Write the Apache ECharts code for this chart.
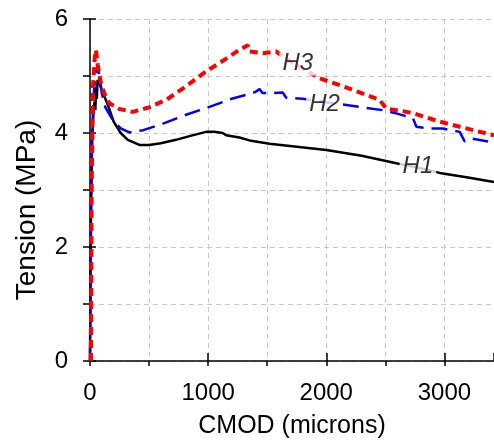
<!DOCTYPE html>
<html><head><meta charset="utf-8">
<script src="https://cdn.jsdelivr.net/npm/echarts@6/dist/echarts.min.js"></script>
<style>html,body{margin:0;padding:0;background:#fff}#c{width:494px;height:445px}</style>
</head><body><div id="c"></div>
<script>
const xTicks = [0, 1000, 2000, 3000];
const yTicks = [0, 2, 4, 6];
const h1 = [[0,0],[8,2.5],[18,3.9],[28,4.3],[38,4.55],[45,4.4],[52,4.8],[58,4.6],[64,4.93],[80,4.88],[100,4.75],[150,4.5],[200,4.2],[260,4.0],[320,3.88],[418,3.79],[500,3.79],[600,3.82],[728,3.88],[850,3.95],[983,4.02],[1050,4.02],[1123,4.0],[1152,3.96],[1265,3.92],[1350,3.87],[1520,3.81],[1750,3.76],[2000,3.70],[2300,3.60],[2593,3.47],[2800,3.38],[2960,3.30],[3200,3.22],[3420,3.14]];
const h2 = [[0,0],[12,3.5],[28,4.6],[45,5.0],[64,5.18],[80,5.0],[100,4.7],[130,4.45],[192,4.23],[260,4.08],[333,4.01],[450,4.05],[600,4.15],[813,4.32],[1000,4.45],[1200,4.6],[1322,4.67],[1400,4.72],[1435,4.77],[1460,4.70],[1520,4.70],[1632,4.71],[1660,4.62],[1800,4.60],[2000,4.54],[2170,4.49],[2480,4.40],[2600,4.34],[2734,4.26],[2763,4.11],[2875,4.08],[2985,4.08],[3130,4.02],[3172,3.85],[3240,3.90],[3370,3.85]];
const h3 = [[8,0],[14,3.0],[25,4.8],[40,5.3],[50,5.46],[65,5.2],[90,4.9],[120,4.7],[164,4.52],[250,4.42],[361,4.37],[500,4.45],[644,4.58],[800,4.80],[983,5.08],[1150,5.30],[1265,5.46],[1336,5.54],[1350,5.43],[1463,5.40],[1576,5.43],[1700,5.25],[1943,4.96],[2197,4.78],[2452,4.58],[2508,4.43],[2734,4.35],[2960,4.20],[3243,4.05],[3420,3.96]];
const labelNames = ['H1','H2','H3'];
const labelPos = [[2776,3.41],[1985,4.51],[1759,5.22]];

const FONT = '"Liberation Sans", Arial, sans-serif';
const chart = echarts.init(document.getElementById('c'));
const gridDash = {show:true, lineStyle:{color:'#c8c8c8', type:[5,4], width:1}};
chart.setOption({
  animation:false,
  grid:{left:90, right:0, top:19, bottom:84, containLabel:false},
  xAxis:[{
    type:'value', min:0, max:3420, interval:500,
    name:'CMOD (microns)', nameLocation:'middle', nameGap:53,
    nameTextStyle:{fontFamily:FONT, fontSize:25, color:'#000'},
    axisLine:{show:true, onZero:false, lineStyle:{color:'#000', width:1.5}},
    axisTick:{show:true, length:5, lineStyle:{color:'#000', width:1.5}},
    axisLabel:{fontFamily:FONT, fontSize:24, color:'#000', margin:20, showMaxLabel:false,
      formatter:v => xTicks.includes(v) ? String(v) : ''},
    splitLine:gridDash
  },{
    type:'value', min:0, max:3420, interval:1000, position:'bottom',
    axisLine:{show:false}, axisLabel:{show:false}, splitLine:{show:false},
    axisTick:{show:true, inside:true, length:8, lineStyle:{color:'#000', width:1.5}}
  }],
  yAxis:[{
    type:'value', min:0, max:6, interval:1,
    name:'Tension (MPa)', nameLocation:'middle', nameGap:49,
    nameTextStyle:{fontFamily:FONT, fontSize:28, color:'#000', padding:[0,40,0,0]},
    axisLine:{show:true, onZero:false, lineStyle:{color:'#000', width:1.5}},
    axisTick:{show:true, length:7, lineStyle:{color:'#000', width:1.5}},
    axisLabel:{fontFamily:FONT, fontSize:24, color:'#000', margin:22,
      formatter:v => yTicks.includes(v) ? String(v) : ''},
    splitLine:gridDash
  },{
    type:'value', min:0, max:6, interval:2, position:'left',
    axisLine:{show:false}, axisLabel:{show:false}, splitLine:{show:false},
    axisTick:{show:true, inside:true, length:6, lineStyle:{color:'#000', width:1.5}}
  }],
  series:[
    {type:'line', name:'H1', data:h1, showSymbol:false, z:3,
      lineStyle:{color:'#000', width:2.5, type:'solid'}},
    {type:'line', name:'H2', data:h2, showSymbol:false, z:4,
      lineStyle:{color:'#0000ff', width:2.5, type:[16,8]}},
    {type:'line', name:'H3', data:h3, showSymbol:false, z:5,
      lineStyle:{color:'#ff0000', width:4, type:[8,5]}},
    {type:'scatter', z:10, symbolSize:0, silent:true,
      data:labelPos.map((p,i)=>({value:p, name:labelNames[i]})),
      label:{show:true, position:'inside', formatter:p=>p.name,
        fontFamily:FONT, fontSize:24, fontStyle:'italic', color:'#000',
        backgroundColor:'#fff', padding:[0,3]}}
  ]
});
</script></body></html>
